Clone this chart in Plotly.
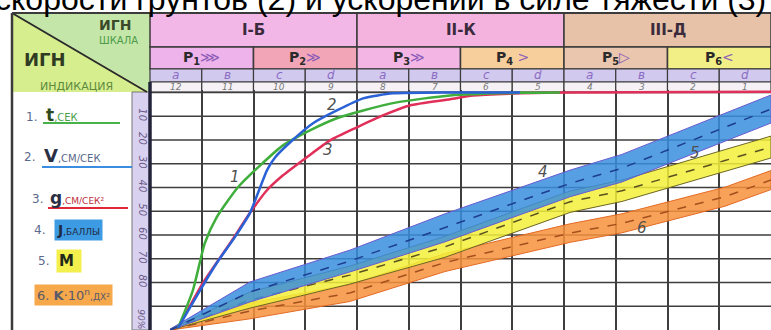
import plotly.graph_objects as go

W, H = 771, 330
PLOT_LEFT_PX = 150     # left edge of the grid
PLOT_TOP_PX = 90       # top of the grid
N_COLS = 12

# ---------------- data ----------------
zones = ["I-Б", "II-К", "III-Д"]
zone_colors = ["#f3b7e7", "#f4b3df", "#e7c2a8"]
categories = ["P<sub>1</sub>", "P<sub>2</sub>", "P<sub>3</sub>", "P<sub>4</sub>", "P<sub>5</sub>", "P<sub>6</sub>"]
category_signs = ["⋙", "≫", "≫", " &gt;", "▷", "&lt;"]
category_colors = ["#eeb3ea", "#f2a5b7", "#f3b6e4", "#f7cf9c", "#e9c6ad", "#f1ef86"]
sub_letters = ["а", "в", "с", "d", "а", "в", "с", "d", "а", "в", "с", "d"]
col_numbers = ["12", "11", "10", "9", "8", "7", "6", "5", "4", "3", "2", "1"]
y_tick_vals = [90, 80, 70, 60, 50, 40, 30, 20]
y_tick_text = ["10", "20", "30", "40", "50", "60", "70", "80"]

# curve 1: t, сек (green)
t_x = [0.54, 0.83, 1.06, 1.29, 1.70, 2.13, 2.57, 3.09, 3.61, 4.12, 4.77, 5.80, 7.15, 7.92]
t_y = [0.8, 16.8, 36.6, 47.5, 60.1, 69.3, 77.7, 84.0, 89.1, 92.4, 95.8, 98.7, 99.8, 100.0]
# curve 2: V, см/сек (blue)
v_x = [0.54, 0.97, 1.29, 1.64, 1.93, 2.13, 2.26, 2.42, 2.71, 3.15, 3.61, 4.12, 4.70, 5.80, 7.15]
v_y = [0.8, 16.8, 28.2, 39.1, 49.2, 60.1, 67.2, 72.7, 79.0, 87.0, 92.4, 97.5, 99.6, 100.0, 100.0]
# curve 3: g, см/сек² (red)
g_x = [0.54, 1.02, 1.55, 1.93, 2.26, 2.57, 3.03, 3.48, 4.00, 4.50, 5.02, 5.80, 6.24, 7.15, 8.12, 12.0]
g_y = [0.8, 19.7, 36.6, 49.2, 58.8, 65.1, 72.7, 79.8, 85.3, 90.3, 94.5, 97.1, 98.7, 99.6, 100.0, 100.3]

# band 4: J, баллы (blue) - centre and half width
j_x = [0.39, 1.93, 3.86, 5.70, 8.12, 9.12, 11.11, 12.0]
j_c = [0.0, 16.0, 29.0, 43.0, 61.7, 68.1, 85.3, 93.0]
j_hw = [0.4, 4.2, 4.6, 5.9, 5.6, 5.8, 5.9, 5.9]
# band 5: M (yellow)
m_x = [0.39, 1.93, 3.86, 5.70, 8.12, 9.12, 11.11, 12.0]
m_c = [0.0, 12.6, 23.1, 35.0, 54.0, 58.6, 71.3, 77.0]
m_hw = [0.4, 3.4, 3.8, 4.4, 4.5, 4.5, 4.6, 4.6]
# band 6: K·10^n (orange)
k_x = [0.39, 1.93, 3.86, 5.70, 8.12, 9.12, 11.11, 12.0]
k_c = [0.0, 8.0, 15.6, 28.4, 40.8, 44.9, 56.1, 63.1]
k_hw = [0.4, 3.3, 3.6, 3.8, 3.9, 4.0, 4.0, 4.0]

curve_labels = ["1", "2", "3", "4", "5", "6"]

# ---------------- helpers ----------------
def px(x):
    return x / W

def py(y):
    return (H - y) / H

def colx(c):
    return px(PLOT_LEFT_PX + c * (W - PLOT_LEFT_PX) / N_COLS)

LINE = "#3b3b3b"
HAND = "DejaVu Sans"

fig = go.Figure()

# bands
def band(xs, cs, hws, fill, edge, dash_col):
    up = [c + h for c, h in zip(cs, hws)]
    lo = [max(c - h, 0) for c, h in zip(cs, hws)]
    fig.add_trace(go.Scatter(x=xs + xs[::-1], y=up + lo[::-1], fill="toself", mode="lines",
                             fillcolor=fill, line=dict(color=edge, width=1), hoverinfo="skip",
                             showlegend=False))
    fig.add_trace(go.Scatter(x=xs, y=cs, mode="lines", line=dict(color=dash_col, width=1.5, dash="dash"),
                             hoverinfo="skip", showlegend=False))

band(k_x, k_c, k_hw, "rgba(247,146,60,0.85)", "#e46a24", "#a3501e")
band(m_x, m_c, m_hw, "rgba(242,240,58,0.85)", "#6c6524", "#5a5020")
band(j_x, j_c, j_hw, "rgba(58,142,222,0.85)", "#6a5ad0", "#1d3d8f")

fig.add_trace(go.Scatter(x=g_x, y=g_y, mode="lines", line=dict(color="#e0305a", width=2.5, shape="spline", smoothing=0.6),
                         showlegend=False))
fig.add_trace(go.Scatter(x=t_x, y=t_y, mode="lines", line=dict(color="#3fae3c", width=2.5, shape="spline", smoothing=0.6),
                         showlegend=False))
fig.add_trace(go.Scatter(x=v_x, y=v_y, mode="lines", line=dict(color="#2a62d6", width=2.5, shape="spline", smoothing=0.6),
                         showlegend=False))

shapes = []
ann = []

def note(x, y, text, size, color, xanchor="center", **kw):
    font = dict(family=HAND, size=size, color=color)
    if kw.pop("italic", False):
        font["style"] = "italic"
    d = dict(x=x, y=y, xref="paper", yref="paper", text=text, showarrow=False,
             xanchor=xanchor, yanchor="middle", font=font)
    d.update(kw)
    ann.append(d)

# ---- header ----
R1, R2, R3, R4, R5 = 13, 47, 69, 82, 92
# left header cell: two triangles
shapes.append(dict(type="path", xref="paper", yref="paper",
                   path=f"M {px(12)},{py(R1)} L {colx(0)},{py(R1)} L {colx(0)},{py(R5)} Z",
                   fillcolor="#c4e7a9", line=dict(width=0), layer="below"))
shapes.append(dict(type="path", xref="paper", yref="paper",
                   path=f"M {px(12)},{py(R1)} L {px(12)},{py(R5)} L {colx(0)},{py(R5)} Z",
                   fillcolor="#d7ee8f", line=dict(width=0), layer="below"))
shapes.append(dict(type="line", xref="paper", yref="paper", x0=px(12), y0=py(R1), x1=colx(0) - px(3), y1=py(R5),
                   line=dict(color="#2b2b2b", width=2)))

for i, z in enumerate(zones):
    shapes.append(dict(type="rect", xref="paper", yref="paper", x0=colx(4 * i), x1=colx(4 * i + 4),
                       y0=py(R2), y1=py(R1), fillcolor=zone_colors[i], line=dict(color=LINE, width=1.5), layer="below"))
    note((colx(4 * i) + colx(4 * i + 4)) / 2, py((R1 + R2) / 2), f"<b>{z}</b>", 15, "#3a2a3c")
for i, c in enumerate(categories):
    shapes.append(dict(type="rect", xref="paper", yref="paper", x0=colx(2 * i), x1=colx(2 * i + 2),
                       y0=py(R3), y1=py(R2), fillcolor=category_colors[i], line=dict(color=LINE, width=1.5), layer="below"))
    note((colx(2 * i) + colx(2 * i + 2)) / 2, py((R2 + R3) / 2),
         f"<b>{c}</b><span style='color:#8c5cb8'>{category_signs[i]}</span>", 14, "#2a2a2a")
for i in range(N_COLS):
    shapes.append(dict(type="rect", xref="paper", yref="paper", x0=colx(i), x1=colx(i + 1),
                       y0=py(R4), y1=py(R3), fillcolor="#d2c9ef", line=dict(color=LINE, width=1.2), layer="below"))
    shapes.append(dict(type="rect", xref="paper", yref="paper", x0=colx(i), x1=colx(i + 1),
                       y0=py(R5), y1=py(R4), fillcolor="#f5f1f5", line=dict(color=LINE, width=1.2), layer="below"))
    note((colx(i) + colx(i + 1)) / 2, py((R3 + R4) / 2), sub_letters[i], 12, "#8a6cc2", italic=True, borderpad=0)
    note((colx(i) + colx(i + 1)) / 2, py((R4 + R5) / 2), col_numbers[i], 9, "#7a7a7a", italic=True, borderpad=0)

note(px(115), py(25), "<b>ИГН</b>", 14, "#3b4a2a", borderpad=0)
note(px(118), py(40), "ШКАЛА", 10, "#4e9a4a", borderpad=0)
note(px(45), py(59), "<b>ИГН</b>", 18, "#2f3b22")
note(px(76), py(86), "ИНДИКАЦИЯ", 11, "#5c8a3c", borderpad=0)

# frame lines
shapes.append(dict(type="line", xref="paper", yref="paper", x0=px(12), x1=1, y0=py(R1), y1=py(R1),
                   line=dict(color=LINE, width=2)))
shapes.append(dict(type="line", xref="paper", yref="paper", x0=px(12), x1=px(12), y0=py(R1), y1=0,
                   line=dict(color=LINE, width=2.5)))
# y strip
shapes.append(dict(type="rect", xref="paper", yref="paper", x0=px(132), x1=colx(0), y0=0, y1=py(R5),
                   fillcolor="#d8d1ef", line=dict(color="#777777", width=1), layer="below"))
shapes.append(dict(type="line", xref="paper", yref="paper", x0=colx(0), x1=colx(0), y0=0, y1=py(R4),
                   line=dict(color="#23233a", width=3.5)))

# legend labels on the left
def lab(x, y, text, size=12, color="#44506a", bg=None):
    kw = {}
    if bg:
        kw.update(bgcolor=bg, borderpad=2)
    note(px(x), py(y), text, size, color, xanchor="left", **kw)

lab(24, 117, "1.", 12, "#5a6a8a")
lab(44, 115, "<b>t</b><span style='font-size:10px;color:#4aa04a'>,СЕК</span>", 17, "#2e4a1e")
shapes.append(dict(type="line", xref="paper", yref="paper", x0=px(43), x1=px(120), y0=py(123), y1=py(123),
                   line=dict(color="#47b34a", width=2)))
lab(22, 157, "2.", 12, "#5a6a8a")
lab(42, 155, "<b>V</b><span style='font-size:10px;color:#5a6a8a'>,СМ/СЕК</span>", 18, "#2a2f44")
shapes.append(dict(type="line", xref="paper", yref="paper", x0=px(42), x1=px(132), y0=py(167), y1=py(167),
                   line=dict(color="#3a8de0", width=2)))
lab(30, 199, "3.", 12, "#5a6a8a")
lab(48, 198, "<b>g</b><span style='font-size:9px;color:#c03040'>,СМ/СЕК²</span>", 17, "#2a2f44")
shapes.append(dict(type="line", xref="paper", yref="paper", x0=px(48), x1=px(128), y0=py(208), y1=py(208),
                   line=dict(color="#e02838", width=2)))
lab(32, 230, "4.", 12, "#5a6a8a")
lab(54, 230, "<b>J</b><span style='font-size:9px'>,БАЛЛЫ</span>", 14, "#1f2a44", bg="#3c9be2")
lab(36, 261, "5.", 12, "#5a6a8a")
lab(56, 261, "<b>M</b> ", 15, "#1f2a1a", bg="#f3ef4c")
lab(34, 295, "6. <b>K</b>·10<sup>n</sup><span style='font-size:9px'>,ДХ²</span>", 13, "#5a5a6a", bg="#f6a84a")

# curve labels
label_pos = [(1.64, 64.3), (3.52, 94.5), (3.44, 75.6), (7.6, 66.4), (10.53, 74.4), (9.5, 42.9)]
for t, (lx, ly) in zip(curve_labels, label_pos):
    ann.append(dict(x=lx, y=ly, xref="x", yref="y", text=t, showarrow=False,
                    font=dict(family=HAND, size=15, color="#505050", style="italic")))

# title fragment (cut at the top)
ann.append(dict(x=px(768), y=py(19), xref="paper", yref="paper", xanchor="right", yanchor="bottom",
                text="скорости грунтов (2) и ускорений в силе тяжести (3)", showarrow=False,
                font=dict(family="Liberation Sans", size=32, color="#000000")))
ann.append(dict(x=0.5 * (px(132) + colx(0)), y=4.5, xref="paper", yref="y", xanchor="center", yanchor="middle",
                text="90%", textangle=90,
                showarrow=False, font=dict(family=HAND, size=9, color="#6a5a8a", style="italic")))

fig.update_layout(
    width=W, height=H, margin=dict(l=0, r=0, t=0, b=0),
    paper_bgcolor="white", plot_bgcolor="white",
    shapes=shapes, annotations=ann, showlegend=False,
    xaxis=dict(range=[0, 12], domain=[colx(0), 1], dtick=1, showgrid=True, gridcolor="#3e3e3e", gridwidth=1.5,
               showticklabels=False, zeroline=False, showline=False, fixedrange=True),
    yaxis=dict(range=[0, 101], domain=[0, py(PLOT_TOP_PX)], tickmode="array", tickvals=y_tick_vals,
               ticktext=y_tick_text, tickangle=90, showgrid=False, zeroline=False, showline=False,
               tickfont=dict(family=HAND, size=10, color="#6a5a8a", style="italic"), fixedrange=True),
)
# horizontal grid lines every 10 units drawn through the y axis scale
for gy in range(10, 101, 10):
    fig.add_hline(y=gy, line=dict(color="#3e3e3e", width=1.5), layer="below")

fig.write_html("out.html", config={"displayModeBar": False},
               post_script="document.body.style.margin='0';document.body.style.overflow='hidden';")
